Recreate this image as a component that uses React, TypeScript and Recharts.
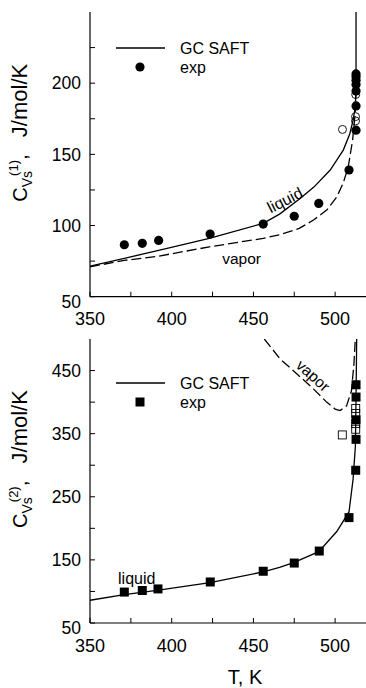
import React from 'react';
import { ComposedChart, Line, Scatter, XAxis, YAxis, ReferenceDot, Legend } from 'recharts';

const FONT = '"Liberation Sans", Arial, Helvetica, sans-serif';

// ---------- axes ----------
const xTicks = [350, 375, 400, 425, 450, 475, 500];
const xLabels = [350, 400, 450, 500];
const yTicks1 = [50, 75, 100, 125, 150, 175, 200, 225];
const yLabels1 = [50, 100, 150, 200];
const yTicks2 = [50, 100, 150, 200, 250, 300, 350, 400, 450];
const yLabels2 = [50, 150, 250, 350, 450];

// ---------- panel 1 : C_Vs(1) ----------
const liquid1 = [
  { T: 350, cv: 71.5 }, { T: 371, cv: 77 }, { T: 392, cv: 82.5 }, { T: 423, cv: 91 },
  { T: 456, cv: 101.5 }, { T: 466, cv: 108 }, { T: 478, cv: 118.5 }, { T: 487, cv: 127 },
  { T: 497, cv: 139 }, { T: 505, cv: 153 }, { T: 509, cv: 164.5 }, { T: 511, cv: 174 },
  { T: 512.3, cv: 183 }, { T: 512.8, cv: 195 }, { T: 512.8, cv: 250 },
];
const vapor1 = [
  { T: 350, cv: 71 }, { T: 371, cv: 75.5 }, { T: 392, cv: 78.5 }, { T: 423, cv: 85 },
  { T: 456, cv: 91 }, { T: 466, cv: 93.5 }, { T: 478, cv: 98 }, { T: 487, cv: 104 },
  { T: 495, cv: 111 }, { T: 501, cv: 120 }, { T: 505, cv: 130 }, { T: 508, cv: 141 },
  { T: 510.7, cv: 160 }, { T: 512.3, cv: 179 }, { T: 512.8, cv: 195 },
];
const exp1 = [
  { T: 371, cv: 86.5 }, { T: 382, cv: 87.5 }, { T: 392, cv: 89.5 }, { T: 423.5, cv: 94 },
  { T: 456, cv: 101 }, { T: 475, cv: 106.5 }, { T: 490, cv: 115.5 }, { T: 508.5, cv: 139 },
  { T: 512.8, cv: 167 }, { T: 512.8, cv: 184 }, { T: 512.8, cv: 194.5 }, { T: 512.8, cv: 199 },
  { T: 512.8, cv: 202 }, { T: 512.8, cv: 204.5 }, { T: 512.8, cv: 206.5 },
];
const expOpen1 = [
  { T: 504.5, cv: 167.5 }, { T: 512.5, cv: 173.5 }, { T: 512.5, cv: 176.5 }, { T: 512.6, cv: 192 },
];

// ---------- panel 2 : C_Vs(2) ----------
const liquid2 = [
  { T: 350, cv: 86 }, { T: 371, cv: 95 }, { T: 392, cv: 102 }, { T: 423.5, cv: 114 },
  { T: 456, cv: 131 }, { T: 466, cv: 138 }, { T: 475, cv: 146 }, { T: 490, cv: 163 },
  { T: 501, cv: 195 }, { T: 508.5, cv: 226 }, { T: 511, cv: 278 }, { T: 512.4, cv: 330 },
  { T: 512.8, cv: 408 }, { T: 513.2, cv: 500 },
];
const vapor2 = [
  { T: 456.7, cv: 500 }, { T: 466.3, cv: 468.5 }, { T: 476.5, cv: 445 }, { T: 486.7, cv: 421 },
  { T: 494.8, cv: 400 }, { T: 500, cv: 389 }, { T: 503, cv: 386.5 }, { T: 507, cv: 394 },
  { T: 510, cv: 418 }, { T: 511.5, cv: 460 }, { T: 512.3, cv: 497 },
];
const exp2 = [
  { T: 371, cv: 99 }, { T: 382, cv: 101.5 }, { T: 391.6, cv: 104 }, { T: 423.6, cv: 115 },
  { T: 456, cv: 132 }, { T: 475, cv: 145 }, { T: 490.3, cv: 164 }, { T: 508.5, cv: 217 },
  { T: 512.6, cv: 292 }, { T: 512.8, cv: 341 }, { T: 512.8, cv: 372 }, { T: 512.8, cv: 408 },
  { T: 512.8, cv: 427.5 },
];
const expOpen2 = [
  { T: 504.4, cv: 348 }, { T: 512.6, cv: 357 }, { T: 512.6, cv: 366 }, { T: 512.6, cv: 382 },
  { T: 512.6, cv: 390 },
];

// ---------- ticks ----------
const XTickBottom = (props: any) => {
  const { x, y, payload } = props;
  return (
    <g>
      <line x1={x} y1={y} x2={x} y2={y - 5} stroke="#000" strokeWidth={1} />
      {xLabels.includes(payload.value) && (
        <text x={x} y={y + 28.5} textAnchor="middle" fontSize={18} fontFamily={FONT} fill="#000">
          {payload.value}
        </text>
      )}
    </g>
  );
};
const XTickTop = (props: any) => {
  const { x, y } = props;
  return <line x1={x} y1={y} x2={x} y2={y + 5} stroke="#000" strokeWidth={1} />;
};
const makeYTick = (labels: number[]) => (props: any) => {
  const { x, y, payload } = props;
  const shift = payload.value === 50 ? 4.5 : 0;
  return (
    <g>
      <line x1={x} y1={y} x2={x + 5} y2={y} stroke="#000" strokeWidth={1} />
      {labels.includes(payload.value) && (
        <text x={x - 9} y={y + shift} dy="0.36em" textAnchor="end" fontSize={17.5} fontFamily={FONT} fill="#000">
          {payload.value}
        </text>
      )}
    </g>
  );
};

const makeYLabel = (sup: string) => (props: any) => {
  const vb = props.viewBox || { x: 0, y: 0, width: 90, height: 280 };
  const x = 27;
  const y = vb.y + vb.height - 95;
  return (
    <text x={x} y={y} transform={`rotate(-90 ${x} ${y})`} fontFamily={FONT} fontSize={20} fill="#000">
      C
      <tspan dy={5} fontSize={14}>Vs</tspan>
      <tspan dx={-5} dy={-14} fontSize={13}>{sup}</tspan>
      <tspan dy={9} fontSize={21}>,</tspan>
      <tspan dx={17} fontSize={22}>J/mol/K</tspan>
    </text>
  );
};

const XLabel = (props: any) => {
  const vb = props.viewBox || { x: 90, y: 293 };
  return (
    <text x={vb.x + 155} y={vb.y + 61} textAnchor="middle" fontFamily={FONT} fontSize={20} fill="#000">
      T, K
    </text>
  );
};

const filledCircle = (p: any) => <circle cx={p.cx} cy={p.cy} r={4.6} fill="#000" />;
const openCircle = (p: any) => <circle cx={p.cx} cy={p.cy} r={4} fill="none" stroke="#000" strokeWidth={0.9} />;
const filledSquare = (p: any) => <rect x={p.cx - 4.5} y={p.cy - 4.5} width={9} height={9} fill="#000" />;
const openSquare = (p: any) => (
  <rect x={p.cx - 4} y={p.cy - 4} width={8} height={8} fill="none" stroke="#000" strokeWidth={0.9} />
);

const annot = (txt: string, angle: number, size: number) => (p: any) => (
  <text
    x={p.cx}
    y={p.cy}
    dy="0.35em"
    textAnchor="middle"
    transform={`rotate(${angle} ${p.cx} ${p.cy})`}
    fontFamily={FONT}
    fontSize={size}
    fill="#000"
  >
    {txt}
  </text>
);

const makeLegend = (square: boolean) => () => (
  <svg width={200} height={44} style={{ display: 'block', overflow: 'visible' }}>
    <line x1={6} y1={12} x2={55} y2={12} stroke="#000" strokeWidth={1.3} />
    {square ? <rect x={25.5} y={26.5} width={9} height={9} fill="#000" /> : <circle cx={30} cy={31} r={4.6} fill="#000" />}
    <text x={70} y={12} dy="0.36em" fontFamily={FONT} fontSize={16} fill="#000">GC SAFT</text>
    <text x={70} y={31} dy="0.36em" fontFamily={FONT} fontSize={16} fill="#000">exp</text>
  </svg>
);

const LINE_W = 1.3;
const DASH = '10 4';

export default function App() {
  return (
    <div style={{ position: 'absolute', left: 0, top: 0, width: 366, height: 688, overflow: 'hidden', background: '#fff' }}>
      <div style={{ position: 'absolute', left: 0, top: 0 }}>
        <ComposedChart width={370} height={330} margin={{ top: 12, right: 2.2, bottom: 3.3, left: 0 }}>
          <XAxis dataKey="T" type="number" domain={[350, 520]} allowDataOverflow ticks={xTicks}
            tickSize={0} tickMargin={0} tickLine={false} axisLine={{ stroke: '#000', strokeWidth: 1.2 }}
            tick={XTickBottom} height={30} interval={0} />
          <XAxis xAxisId="top" orientation="top" dataKey="T" type="number" domain={[350, 520]} allowDataOverflow
            ticks={xTicks} tickSize={0} tickMargin={0} tickLine={false} axisLine={{ stroke: '#000', strokeWidth: 1.2 }}
            tick={XTickTop} height={0} interval={0} />
          <YAxis dataKey="cv" type="number" domain={[50, 250]} allowDataOverflow ticks={yTicks1} width={90}
            tickSize={0} tickMargin={0} tickLine={false} axisLine={{ stroke: '#000', strokeWidth: 1.2 }}
            tick={makeYTick(yLabels1)} interval={0} label={makeYLabel('(1)')} />
          <Legend verticalAlign="middle" align="center" layout="horizontal" content={makeLegend(false)}
            wrapperStyle={{ top: 36, left: 110, width: 200, height: 44 }} />
          <Scatter data={expOpen1} dataKey="cv" shape={openCircle} isAnimationActive={false} legendType="none" />
          <Line data={vapor1} dataKey="cv" type="linear" stroke="#000" strokeWidth={LINE_W} strokeDasharray={DASH}
            dot={false} activeDot={false} isAnimationActive={false} legendType="none" />
          <Line data={liquid1} dataKey="cv" type="linear" stroke="#000" strokeWidth={LINE_W}
            dot={false} activeDot={false} isAnimationActive={false} legendType="none" />
          <Scatter data={exp1} dataKey="cv" shape={filledCircle} isAnimationActive={false} legendType="none" />
          <ReferenceDot x={469.3} y={117.9} r={0} shape={annot('liquid', -27, 16)} />
          <ReferenceDot x={442.8} y={76.8} r={0} shape={annot('vapor', 0, 15.5)} />
        </ComposedChart>
      </div>
      <div style={{ position: 'absolute', left: 0, top: 330 }}>
        <ComposedChart width={370} height={358} margin={{ top: 9, right: 2.2, bottom: 35, left: 0 }}>
          <XAxis dataKey="T" type="number" domain={[350, 520]} allowDataOverflow ticks={xTicks}
            tickSize={0} tickMargin={0} tickLine={false} axisLine={{ stroke: '#000', strokeWidth: 1.2 }}
            tick={XTickBottom} height={30} interval={0} label={XLabel} />
          <XAxis xAxisId="top" orientation="top" dataKey="T" type="number" domain={[350, 520]} allowDataOverflow
            ticks={xTicks} tickSize={0} tickMargin={0} tickLine={false} axisLine={{ stroke: '#000', strokeWidth: 1.2 }}
            tick={XTickTop} height={0} interval={0} />
          <YAxis dataKey="cv" type="number" domain={[50, 500]} allowDataOverflow ticks={yTicks2} width={90}
            tickSize={0} tickMargin={0} tickLine={false} axisLine={{ stroke: '#000', strokeWidth: 1.2 }}
            tick={makeYTick(yLabels2)} interval={0} label={makeYLabel('(2)')} />
          <Legend verticalAlign="middle" align="center" layout="horizontal" content={makeLegend(true)}
            wrapperStyle={{ top: 40.5, left: 110, width: 200, height: 44 }} />
          <Scatter data={expOpen2} dataKey="cv" shape={openSquare} isAnimationActive={false} legendType="none" />
          <Line data={vapor2} dataKey="cv" type="linear" stroke="#000" strokeWidth={LINE_W} strokeDasharray={DASH}
            dot={false} activeDot={false} isAnimationActive={false} legendType="none" />
          <Line data={liquid2} dataKey="cv" type="linear" stroke="#000" strokeWidth={LINE_W}
            dot={false} activeDot={false} isAnimationActive={false} legendType="none" />
          <Scatter data={exp2} dataKey="cv" shape={filledSquare} isAnimationActive={false} legendType="none" />
          <ReferenceDot x={378.6} y={120.7} r={0} shape={annot('liquid', 0, 16)} />
          <ReferenceDot x={486.5} y={442} r={0} shape={annot('vapor', 42, 15.5)} />
        </ComposedChart>
      </div>
    </div>
  );
}
